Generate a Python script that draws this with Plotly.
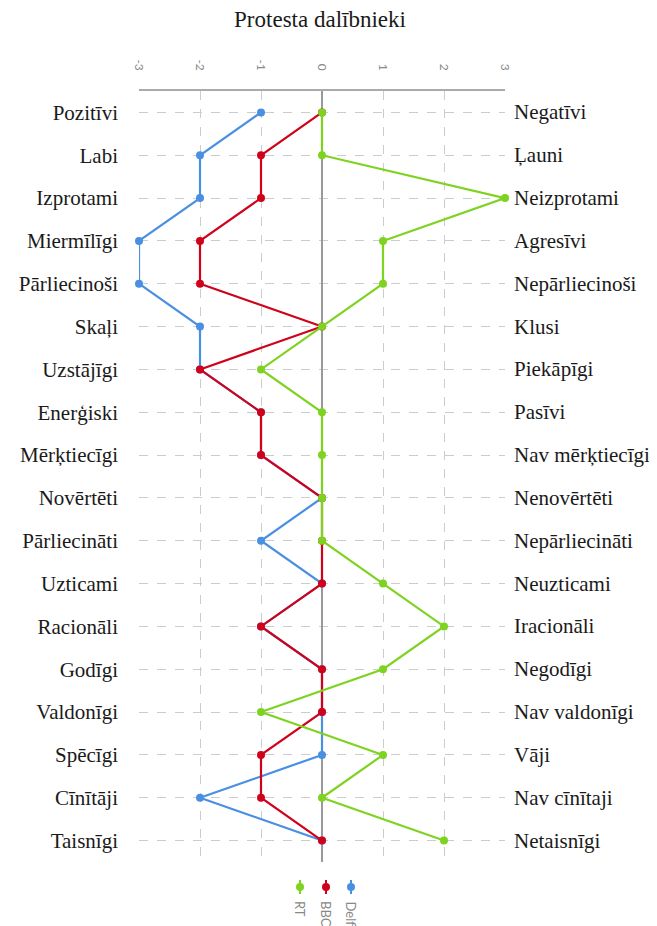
import plotly.graph_objects as go

left_labels = ["Pozitīvi", "Labi", "Izprotami", "Miermīlīgi", "Pārliecinoši", "Skaļi",
               "Uzstājīgi", "Enerģiski", "Mērķtiecīgi", "Novērtēti", "Pārliecināti",
               "Uzticami", "Racionāli", "Godīgi", "Valdonīgi", "Spēcīgi", "Cīnītāji", "Taisnīgi"]
right_labels = ["Negatīvi", "Ļauni", "Neizprotami", "Agresīvi", "Nepārliecinoši", "Klusi",
                "Piekāpīgi", "Pasīvi", "Nav mērķtiecīgi", "Nenovērtēti", "Nepārliecināti",
                "Neuzticami", "Iracionāli", "Negodīgi", "Nav valdonīgi", "Vāji", "Nav cīnītaji",
                "Netaisnīgi"]

rt = [0, 0, 3, 1, 1, 0, -1, 0, 0, 0, 0, 1, 2, 1, -1, 1, 0, 2]
bbc = [0, -1, -1, -2, -2, 0, -2, -1, -1, 0, 0, 0, -1, 0, 0, -1, -1, 0]
delfi = [-1, -2, -2, -3, -3, -2, -2, -1, -1, 0, -1, 0, -1, 0, 0, 0, -2, 0]

series_names = ["RT", "BBC", "Delfi"]
colors = {"RT": "#7ED321", "BBC": "#D0021B", "Delfi": "#4A90E2"}
x_ticks = [-3, -2, -1, 0, 1, 2, 3]

SERIF = "Liberation Serif, Times New Roman, serif"

fig = go.Figure()
for name, vals in [("Delfi", delfi), ("BBC", bbc), ("RT", rt)]:
    fig.add_trace(go.Scatter(
        x=vals, y=left_labels, mode="lines+markers", name=name,
        line=dict(color=colors[name], width=2.2),
        marker=dict(color=colors[name], size=8),
        showlegend=False, cliponaxis=False,
    ))

W, H = 657, 926
OFF = 8  # page body margin
ml, mt = 139 - OFF, 91 - OFF
pw, ph = 366, 771
mr, mb = W - ml - pw, H - mt - ph

annotations = []
for l, r in zip(left_labels, right_labels):
    annotations.append(dict(x=1, xref="paper", y=l, yref="y", text=r, showarrow=False,
                            xanchor="left", xshift=7,
                            font=dict(family=SERIF, size=21, color="#1a1a1a")))

# legend (custom, rotated text)
shapes = []
leg_x = [300, 326, 351]
for name, px in zip(series_names, leg_x):
    xp = (px - OFF - ml) / pw
    def py(v):
        return (H - mb - (v - OFF)) / ph
    shapes.append(dict(type="line", xref="paper", yref="paper", x0=xp, x1=xp, y0=py(880), y1=py(894),
                       line=dict(color=colors[name], width=2)))
    shapes.append(dict(type="circle", xref="paper", yref="paper",
                       xsizemode="pixel", ysizemode="pixel", xanchor=xp, yanchor=py(887),
                       x0=-4, x1=4, y0=-4, y1=4,
                       fillcolor=colors[name], line=dict(color=colors[name], width=0)))
    annotations.append(dict(x=xp, xref="paper", y=py(899), yref="paper",
                            text=name, textangle=90, showarrow=False,
                            xanchor="center", yanchor="top",
                            font=dict(family="Lato, sans-serif", size=13, color="#888")))

fig.update_layout(
    width=W, height=H,
    margin=dict(l=ml, r=mr, t=mt, b=mb, autoexpand=False),
    paper_bgcolor="white", plot_bgcolor="white",
    title=dict(text="Protesta dalībnieki", x=(320 - OFF - ml) / pw, xref="paper", xanchor="center",
               y=1.0, yref="container", yanchor="top", pad=dict(t=3),
               font=dict(family=SERIF, size=23, color="#1a1a1a")),
    xaxis=dict(side="top", range=[-3, 3], tickvals=x_ticks, ticktext=[str(v) for v in x_ticks],
               tickangle=90, tickfont=dict(family="Lato, sans-serif", size=12, color="#888"),
               showline=True, linecolor="#aaa", linewidth=2,
               showgrid=True, gridcolor="#ccc", griddash="dash", gridwidth=1,
               zeroline=True, zerolinecolor="#999", zerolinewidth=2,
               ticks="", ticklabelstandoff=14, automargin=False, fixedrange=True),
    yaxis=dict(type="category", categoryorder="array", categoryarray=left_labels,
               range=[len(left_labels) - 0.5, -0.5],
               showgrid=True, gridcolor="#ccc", griddash="dash", gridwidth=1,
               tickfont=dict(family=SERIF, size=21, color="#1a1a1a"),
               ticks="", ticklabelstandoff=20, showline=False, zeroline=False,
               automargin=False, fixedrange=True),
    annotations=annotations,
    shapes=shapes,
)

fig.write_html("out.html")
